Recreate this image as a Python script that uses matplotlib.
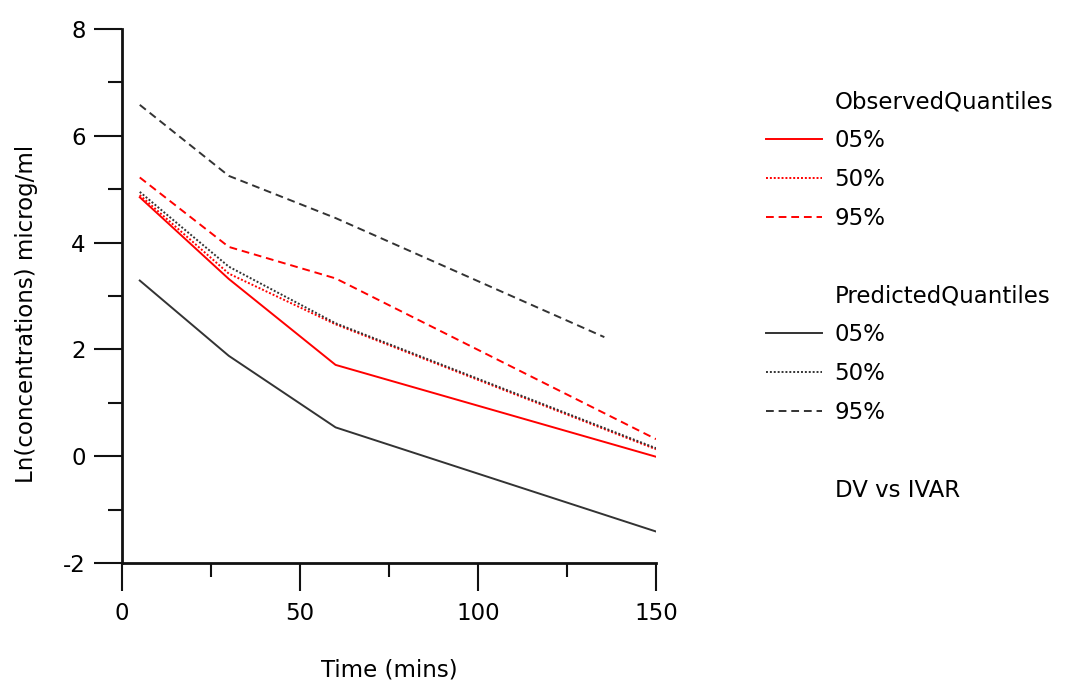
import matplotlib
matplotlib.use("Agg")
import matplotlib.pyplot as plt
from matplotlib.lines import Line2D
from matplotlib.ticker import MultipleLocator

plt.rcParams['font.family'] = ['DejaVu Sans']
plt.rcParams['axes.unicode_minus'] = False

time = [5, 30, 60, 150]
time_p95 = [5, 30, 60, 135.5]

obs_05 = [4.85, 3.32, 1.71, -0.01]
obs_50 = [4.89, 3.42, 2.47, 0.13]
obs_95 = [5.22, 3.92, 3.33, 0.32]

pred_05 = [3.29, 1.88, 0.54, -1.41]
pred_50 = [4.95, 3.55, 2.49, 0.15]
pred_95 = [6.58, 5.25, 4.46, 2.23]

x_ticks = [0, 50, 100, 150]
y_ticks = [-2, 0, 2, 4, 6, 8]

fig = plt.figure(figsize=(10.68, 6.86), dpi=100)
ax = fig.add_axes([0.1142, 0.1793, 0.5, 0.7784])

red = '#ff0000'
blk = '#333333'
lw = 1.4
dash = (0, (4, 2.5))
fs = 16.5

h_o05, = ax.plot(time, obs_05, color=red, lw=lw, ls='-', label='05%')
h_o50, = ax.plot(time, obs_50, color=red, lw=lw, ls=(0, (1, 1)), label='50%')
h_o95, = ax.plot(time, obs_95, color=red, lw=lw, ls=dash, label='95%')
h_p05, = ax.plot(time, pred_05, color=blk, lw=lw, ls='-', label='05%')
h_p50, = ax.plot(time, pred_50, color=blk, lw=lw, ls=(0, (1, 1)), label='50%')
h_p95, = ax.plot(time_p95, pred_95, color=blk, lw=lw, ls=dash, label='95%')

ax.set_xlim(0, 150)
ax.set_ylim(-2, 8)
ax.set_xticks(x_ticks)
ax.set_yticks(y_ticks)
ax.xaxis.set_minor_locator(MultipleLocator(25))
ax.yaxis.set_minor_locator(MultipleLocator(1))
for s in ['top', 'right']:
    ax.spines[s].set_visible(False)
for s in ['left', 'bottom']:
    ax.spines[s].set_linewidth(2)
    ax.spines[s].set_color('#111111')
ax.tick_params(which='major', length=20, width=1.5, labelsize=fs, pad=6, color='#111111')
ax.tick_params(which='minor', length=10, width=1.5, color='#111111')
ax.tick_params(axis='x', which='major', pad=8)
ax.set_xlabel('Time (mins)', fontsize=fs, labelpad=24)
ax.set_ylabel('Ln(concentrations) microg/ml', fontsize=fs)
ax.yaxis.set_label_coords(-0.158, 0.466)

blank = Line2D([], [], color='none')
handles = [blank, h_o05, h_o50, h_o95, blank, blank, h_p05, h_p50, h_p95, blank, blank]
labels = ['ObservedQuantiles', '05%', '50%', '95%', '', 'PredictedQuantiles',
          '05%', '50%', '95%', '', 'DV vs IVAR']
fig.legend(handles, labels, loc='upper left', bbox_to_anchor=(0.717, 0.868),
           frameon=False, fontsize=fs, handlelength=2.45, handletextpad=0.55,
           labelspacing=0.69, borderaxespad=0, borderpad=0)

fig.savefig('out.png', dpi=100)
